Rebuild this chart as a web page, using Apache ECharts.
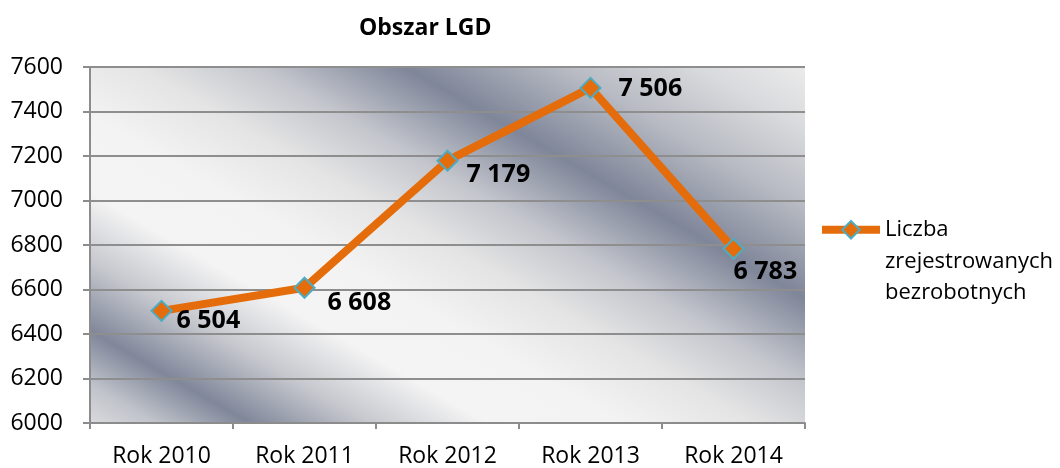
<!DOCTYPE html>
<html>
<head>
<meta charset="utf-8">
<title>Obszar LGD</title>
<script src="https://cdn.jsdelivr.net/npm/echarts@6/dist/echarts.min.js"></script>
<style>
  html, body { margin: 0; padding: 0; background: #fff; }
  #chart { width: 1060px; height: 468px; }
</style>
</head>
<body>
<div id="chart"></div>
<script>
// dane z wykresu
var lata = ['Rok 2010', 'Rok 2011', 'Rok 2012', 'Rok 2013', 'Rok 2014'];
var bezrobotni = [6504, 6608, 7179, 7506, 6783];
var nazwaSerii = 'Liczba\nzrejestrowanych\nbezrobotnych';

// przesuniecia etykiet (jak w oryginale)
var labelOffsets = [[4, 10], [12, 15], [8, 14], [17, 1], [-11, 23]];

var font = '"Open Sans", "Noto Sans", sans-serif';

// 6504 -> "6 504"
function spacja(v) {
  return String(v).replace(/\B(?=(\d{3})+(?!\d))/g, ' ');
}

var chart = echarts.init(document.getElementById('chart'));

var punkty = bezrobotni.map(function (v, i) {
  return { value: v, label: { offset: labelOffsets[i] } };
});

var option = {
  backgroundColor: '#fff',
  animation: false,
  title: {
    text: 'Obszar LGD',
    left: 359,
    top: 17,
    padding: 0,
    textStyle: { fontFamily: font, fontSize: 23, fontWeight: 'bold', color: '#000' }
  },
  legend: {
    left: 818,
    top: 151,
    padding: 0,
    itemWidth: 58,
    itemHeight: 22,
    lineStyle: { width: 8 },
    itemStyle: { borderWidth: 2 },
    // dwie puste linie, zeby ikona stala przy pierwszej linii tekstu
    formatter: function (name) { return '\n\n' + name; },
    textStyle: { fontFamily: font, fontSize: 22, color: '#000', lineHeight: 31.5 },
    data: [nazwaSerii]
  },
  grid: {
    show: true,
    left: 90,
    top: 67,
    width: 715,
    height: 357,
    borderWidth: 0,
    // tlo w ukosne pasy
    backgroundColor: {
      type: 'linear',
      x: 0, y: 1, x2: 0.466, y2: -0.618,
      colorStops: [
        { offset: 0, color: '#dadadd' },
        { offset: 0.05, color: '#c0c3ca' },
        { offset: 0.12, color: '#80879a' },
        { offset: 0.21, color: '#c6c8ce' },
        { offset: 0.3, color: '#f4f4f4' },
        { offset: 0.4, color: '#f3f3f3' },
        { offset: 0.5, color: '#e4e4e4' },
        { offset: 0.59, color: '#c4c6cd' },
        { offset: 0.7, color: '#7f8699' },
        { offset: 0.82, color: '#b8bbc3' },
        { offset: 0.92, color: '#d9dadd' },
        { offset: 1, color: '#ebebeb' }
      ]
    }
  },
  xAxis: {
    type: 'category',
    data: lata,
    boundaryGap: true,
    axisLine: { lineStyle: { color: '#8c8c8c', width: 2 } },
    axisTick: { show: true, length: 6, lineStyle: { color: '#8c8c8c', width: 2 } },
    axisLabel: { margin: 22, fontFamily: font, fontSize: 23, color: '#000' },
    splitLine: { show: false }
  },
  yAxis: {
    type: 'value',
    min: 6000,
    max: 7600,
    interval: 200,
    axisLine: { show: true, lineStyle: { color: '#8c8c8c', width: 2 } },
    axisTick: { show: true, length: 7, lineStyle: { color: '#8c8c8c', width: 2 } },
    axisLabel: {
      margin: 27, fontFamily: font, fontSize: 23, color: '#000',
      formatter: function (v) { return String(v); }
    },
    splitLine: { show: true, lineStyle: { color: '#8e8e8e', width: 2 } }
  },
  series: [{
    name: nazwaSerii,
    type: 'line',
    data: punkty,
    symbol: 'diamond',
    symbolSize: 20,
    lineStyle: { color: '#e46c0a', width: 8 },
    itemStyle: { color: '#e46c0a', borderColor: '#4bacc6', borderWidth: 2 },
    label: {
      show: true,
      position: 'right',
      distance: 0,
      align: 'left',
      verticalAlign: 'middle',
      fontFamily: font,
      fontSize: 25,
      fontWeight: 'bold',
      color: '#000',
      formatter: function (p) { return spacja(p.value); }
    },
    z: 3
  }]
};

chart.setOption(option);
</script>
</body>
</html>
